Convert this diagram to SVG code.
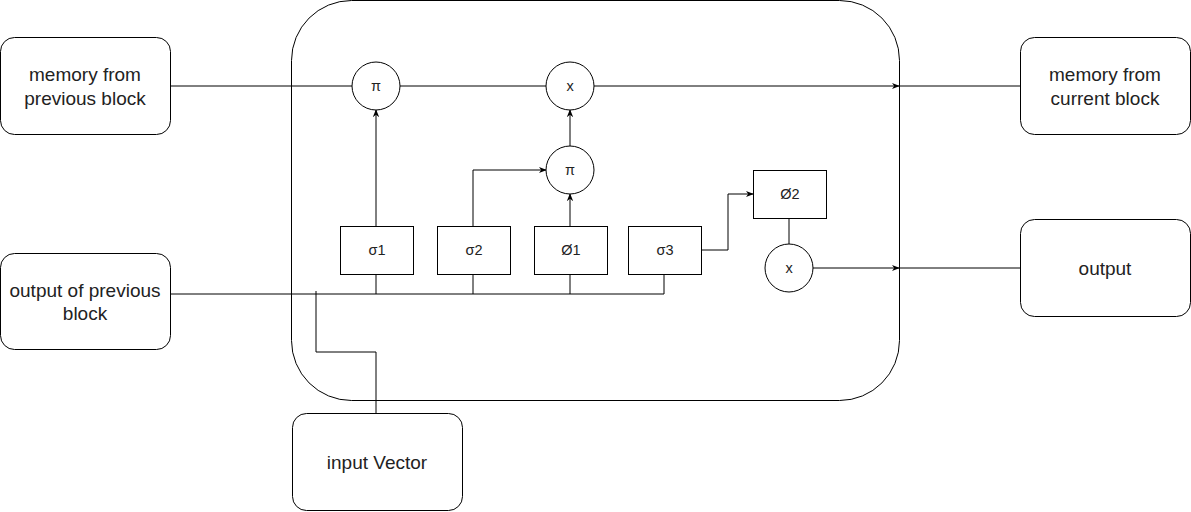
<svg xmlns="http://www.w3.org/2000/svg" width="1191" height="512" viewBox="0 0 1191 512">
<style>
.n{fill:#fff;stroke:#000;stroke-width:1}
.t{font-family:"Liberation Sans",Arial,sans-serif;font-size:19px;fill:#222;text-anchor:middle}
.s{font-family:"Liberation Sans",Arial,sans-serif;font-size:14.5px;fill:#222;text-anchor:middle}
.c{fill:none;stroke:#000;stroke-width:1}
</style>
<defs>
<marker id="a" viewBox="0 0 10 10" refX="9" refY="5" markerWidth="8" markerHeight="8" orient="auto" markerUnits="userSpaceOnUse">
<path d="M0,1 L10,5 L0,9 L3,5 Z" fill="#000"/>
</marker>
</defs>
<rect width="1191" height="512" fill="#fff"/>
<g id="cell"><rect class="n" x="291.5" y="0.5" width="608" height="400" rx="60" ry="60"/></g>
<g id="connectors">
<path class="c" d="M170,86 H352"/>
<path class="c" d="M400,86 H546"/>
<path class="c" d="M594,86 H899" marker-end="url(#a)"/>
<path class="c" d="M899,86 H1020"/>
<path class="c" d="M170,294 H664 V274"/>
<path class="c" d="M376,294 V274"/>
<path class="c" d="M473,294 V274"/>
<path class="c" d="M570,294 V274"/>
<path class="c" d="M376,226 V110" marker-end="url(#a)"/>
<path class="c" d="M570,226 V194" marker-end="url(#a)"/>
<path class="c" d="M570,146 V110" marker-end="url(#a)"/>
<path class="c" d="M473,226 V170 H546" marker-end="url(#a)"/>
<path class="c" d="M701,250 H728 V194 H753" marker-end="url(#a)"/>
<path class="c" d="M789,218 V244"/>
<path class="c" d="M812,268 H899" marker-end="url(#a)"/>
<path class="c" d="M899,268 H1020"/>
<path class="c" d="M376,413 V352 H316 V291"/>
</g>
<g id="mem-prev"><rect class="n" x="0.5" y="37.5" width="170" height="97" rx="14"/><text class="t" x="85" y="81">memory from</text><text class="t" x="85" y="105">previous block</text></g>
<g id="out-prev"><rect class="n" x="0.5" y="253.5" width="170" height="96" rx="14"/><text class="t" x="85" y="297">output of previous</text><text class="t" x="85" y="320">block</text></g>
<g id="mem-cur"><rect class="n" x="1020.5" y="37.5" width="170" height="97" rx="14"/><text class="t" x="1105" y="81">memory from</text><text class="t" x="1105" y="105">current block</text></g>
<g id="output"><rect class="n" x="1020.5" y="219.5" width="170" height="97" rx="14"/><text class="t" x="1105" y="275">output</text></g>
<g id="input"><rect class="n" x="292.5" y="413.5" width="170" height="97" rx="14"/><text class="t" x="377" y="469">input Vector</text></g>
<g id="pi1"><circle class="n" cx="376" cy="86" r="24"/><text class="s" x="376" y="91">π</text></g>
<g id="x1"><circle class="n" cx="570" cy="86" r="24"/><text class="s" x="570" y="91">x</text></g>
<g id="pi2"><circle class="n" cx="570" cy="170" r="24"/><text class="s" x="570" y="175">π</text></g>
<g id="x2"><circle class="n" cx="789" cy="268" r="24"/><text class="s" x="789" y="273">x</text></g>
<g id="s1"><rect class="n" x="340.5" y="226.5" width="73" height="48"/><text class="s" x="377" y="255">σ1</text></g>
<g id="s2"><rect class="n" x="437.5" y="226.5" width="73" height="48"/><text class="s" x="474" y="255">σ2</text></g>
<g id="p1"><rect class="n" x="534.5" y="226.5" width="73" height="48"/><text class="s" x="571" y="255">Ø1</text></g>
<g id="s3"><rect class="n" x="628.5" y="226.5" width="73" height="48"/><text class="s" x="665" y="255">σ3</text></g>
<g id="p2"><rect class="n" x="753.5" y="170.5" width="73" height="48"/><text class="s" x="790" y="199">Ø2</text></g>
</svg>
